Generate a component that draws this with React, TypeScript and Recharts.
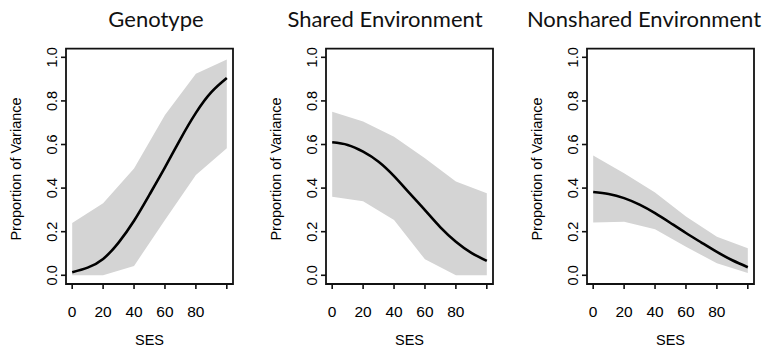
import React from 'react';
import { ComposedChart, Area, Line, XAxis, YAxis, ReferenceArea } from 'recharts';

// SES grid for the fitted curves, and the coarser grid the CI bands are drawn on
const SES = [0, 10, 20, 30, 40, 50, 60, 70, 80, 90, 100];
const BAND_SES = [0, 20, 40, 60, 80, 100];
const X_TICKS = [0, 20, 40, 60, 80, 100];
const Y_TICKS = [0, 0.2, 0.4, 0.6, 0.8, 1.0];

const GENOTYPE_FIT = [0.014, 0.035, 0.075, 0.15, 0.25, 0.37, 0.495, 0.625, 0.745, 0.84, 0.905];
const GENOTYPE_LOWER = [0, 0, 0.043, 0.254, 0.46, 0.583];
const GENOTYPE_UPPER = [0.24, 0.33, 0.49, 0.735, 0.925, 0.99];

const SHARED_FIT = [0.61, 0.598, 0.567, 0.521, 0.455, 0.377, 0.299, 0.22, 0.154, 0.103, 0.066];
const SHARED_LOWER = [0.36, 0.34, 0.254, 0.073, 0, 0];
const SHARED_UPPER = [0.75, 0.705, 0.636, 0.537, 0.43, 0.376];

const NONSHARED_FIT = [0.382, 0.373, 0.354, 0.324, 0.285, 0.24, 0.194, 0.15, 0.107, 0.069, 0.037];
const NONSHARED_LOWER = [0.242, 0.246, 0.211, 0.131, 0.055, 0.01];
const NONSHARED_UPPER = [0.55, 0.468, 0.38, 0.27, 0.177, 0.124];

const PANELS = [
  { title: 'Genotype', titleX: 156, boxLeft: 65.5, fit: GENOTYPE_FIT, lower: GENOTYPE_LOWER, upper: GENOTYPE_UPPER },
  { title: 'Shared Environment', titleX: 385, boxLeft: 326.1, fit: SHARED_FIT, lower: SHARED_LOWER, upper: SHARED_UPPER },
  { title: 'Nonshared Environment', titleX: 644, boxLeft: 587.1, fit: NONSHARED_FIT, lower: NONSHARED_LOWER, upper: NONSHARED_UPPER },
];

const AXIS_FONT = '"Liberation Sans", Arial, sans-serif';
const Y_AXIS_W = 62;
const CHART_W = 231;
const CHART_H = 349;

function buildRows(fit: number[], lower: number[], upper: number[]) {
  return SES.map((x, i) => {
    const b = BAND_SES.indexOf(x);
    return { ses: x, fit: fit[i], band: b >= 0 ? [lower[b], upper[b]] : null };
  });
}

const XTick = (props: any) => {
  const { x, y, payload } = props;
  if (payload.value === 100) return <g />;
  return (
    <text x={x} y={y + 22} textAnchor="middle" dominantBaseline="central" fontSize={15.5} fontFamily={AXIS_FONT} fill="#000">
      {payload.value}
    </text>
  );
};

const YTick = (props: any) => {
  const { x, y, payload } = props;
  const cx = x - 8.5;
  return (
    <text x={cx} y={y} transform={`rotate(-90, ${cx}, ${y})`} textAnchor="middle" dominantBaseline="central" fontSize={14.5} fontFamily={AXIS_FONT} fill="#000">
      {Number(payload.value).toFixed(1)}
    </text>
  );
};

function Panel({ fit, lower, upper, boxLeft }: any) {
  const rows = buildRows(fit, lower, upper);
  return (
    <div style={{ position: 'absolute', left: boxLeft - Y_AXIS_W, top: 0 }}>
      <ComposedChart width={CHART_W} height={CHART_H} data={rows} margin={{ top: 48.6, right: 2, bottom: 5, left: 0 }}>
        <XAxis
          dataKey="ses"
          type="number"
          domain={[-4, 104]}
          ticks={X_TICKS}
          allowDataOverflow
          height={60}
          tickSize={5}
          tickMargin={0}
          axisLine={false}
          tickLine={{ stroke: '#111', strokeWidth: 1.6 }}
          tick={XTick}
          label={{
            content: () => (
              <text x={Y_AXIS_W + 83.5} y={339.5} textAnchor="middle" dominantBaseline="central" fontSize={14.5} fontFamily={AXIS_FONT} fill="#000">
                SES
              </text>
            ),
          }}
        />
        <YAxis
          type="number"
          domain={[-0.04, 1.04]}
          ticks={Y_TICKS}
          allowDataOverflow
          width={Y_AXIS_W}
          tickSize={5}
          tickMargin={0}
          axisLine={false}
          tickLine={{ stroke: '#111', strokeWidth: 1.6 }}
          tick={YTick}
          label={{
            content: () => (
              <text x={12} y={169} transform="rotate(-90, 12, 169)" textAnchor="middle" dominantBaseline="central" fontSize={14.5} fontFamily={AXIS_FONT} fill="#000">
                Proportion of Variance
              </text>
            ),
          }}
        />
        <Area
          dataKey="band"
          type="linear"
          connectNulls
          stroke="none"
          fill="#d4d4d4"
          fillOpacity={1}
          isAnimationActive={false}
        />
        <Line dataKey="fit" type="natural" stroke="#000" strokeWidth={2.6} dot={false} isAnimationActive={false} />
        <ReferenceArea x1={-4} x2={104} y1={-0.04} y2={1.04} fill="none" stroke="#111" strokeWidth={1.8} ifOverflow="visible" />
      </ComposedChart>
    </div>
  );
}

export default function App() {
  return (
    <div style={{ position: 'absolute', left: 0, top: 0, width: 770, height: 349, background: '#fff' }}>
      {PANELS.map((p) => (
        <Panel key={p.title} {...p} />
      ))}
      <svg width={770} height={349} style={{ position: 'absolute', left: 0, top: 0, pointerEvents: 'none' }}>
        {PANELS.map((p) => (
          <text key={p.title} x={p.titleX} y={27} textAnchor="middle" fontSize={22} fontFamily="Lato, 'Open Sans', sans-serif" fill="#111">
            {p.title}
          </text>
        ))}
      </svg>
    </div>
  );
}
